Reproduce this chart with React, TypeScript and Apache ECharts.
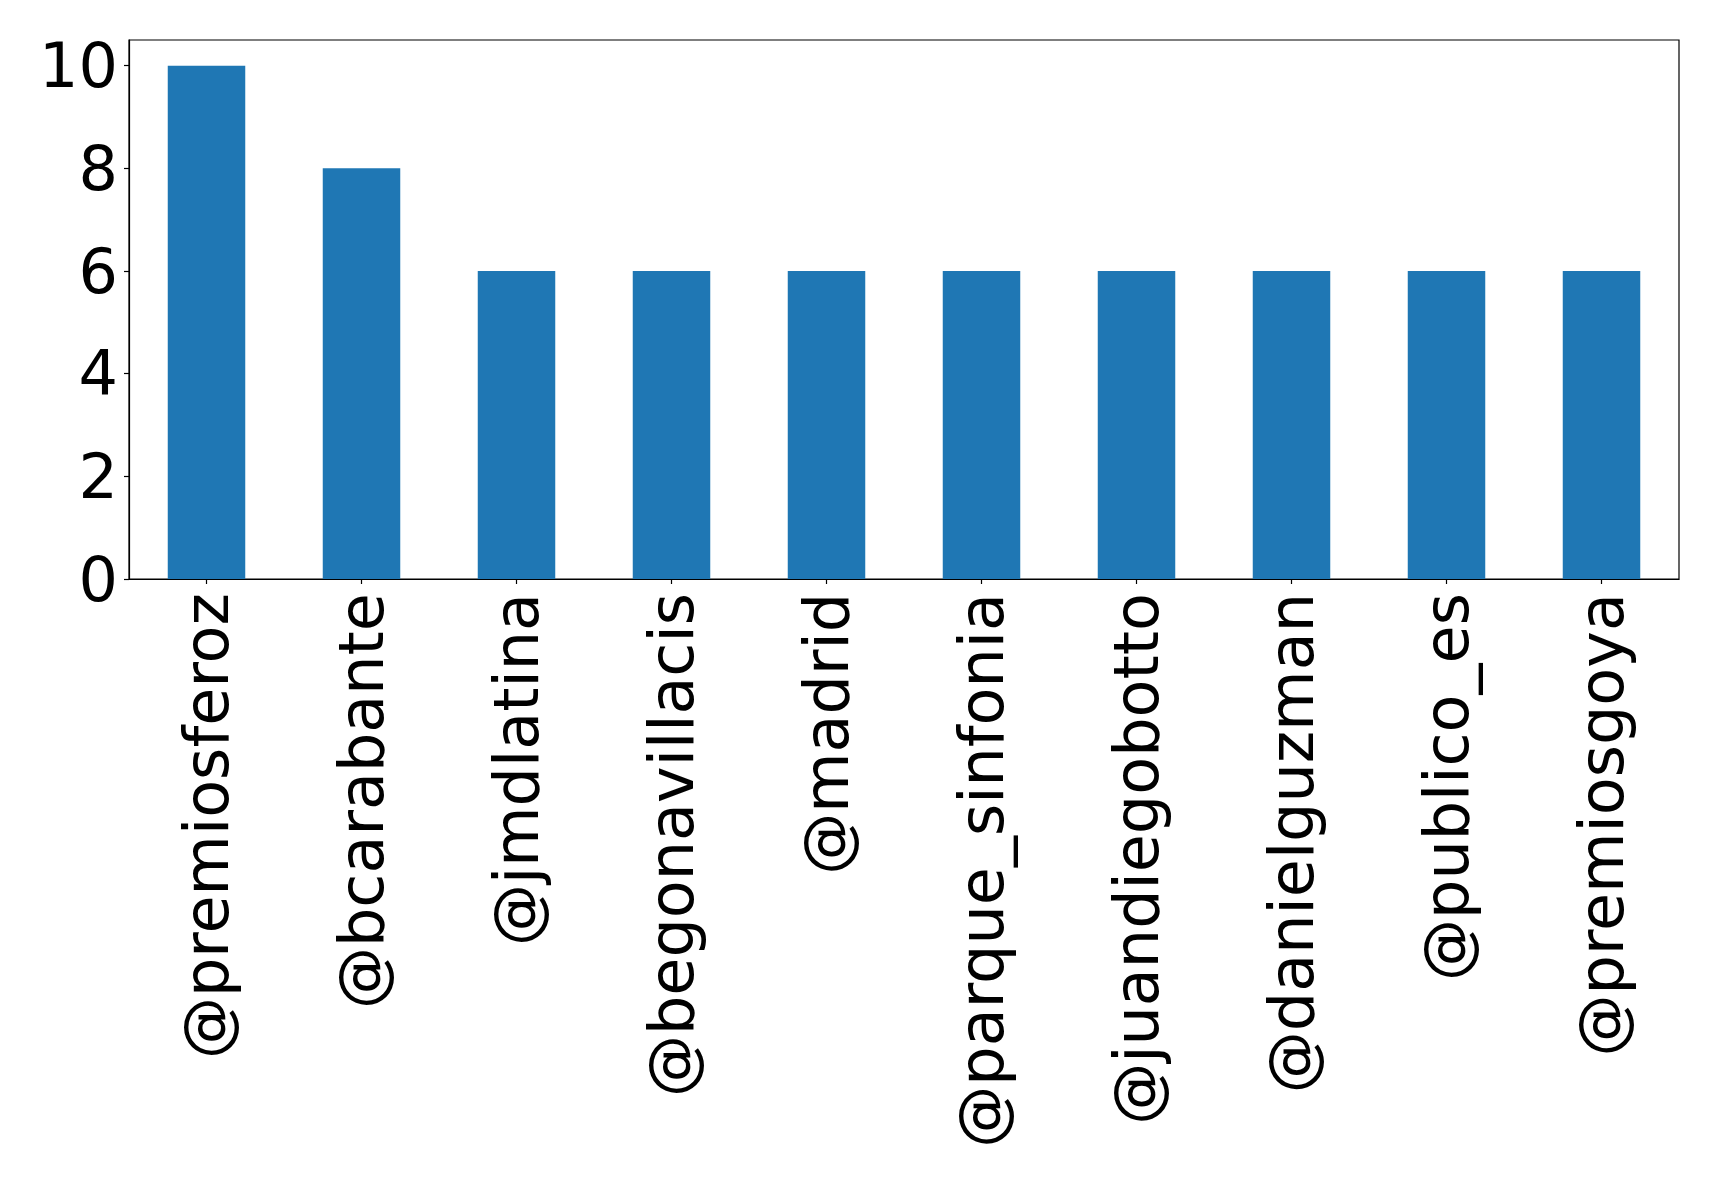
import React, { useEffect, useRef } from "react";
import * as echarts from "echarts";

const categories = [
  "@premiosferoz",
  "@bcarabante",
  "@jmdlatina",
  "@begonavillacis",
  "@madrid",
  "@parque_sinfonia",
  "@juandiegobotto",
  "@danielguzman",
  "@publico_es",
  "@premiosgoya",
];
const counts = [10, 8, 6, 6, 6, 6, 6, 6, 6, 6];
const yTicks = [0, 2, 4, 6, 8, 10];

export default function App() {
  const ref = useRef<HTMLDivElement>(null);

  useEffect(() => {
    document.body.style.margin = "0";
    const chart = echarts.init(ref.current!, null, { renderer: "svg" });
    chart.setOption({
      animation: false,
      backgroundColor: "#ffffff",
      grid: {
        left: 129,
        top: 40,
        width: 1550,
        height: 539,
        show: true,
        borderColor: "#000000",
        borderWidth: 1.2,
        backgroundColor: "transparent",
      },
      xAxis: {
        type: "category",
        data: categories,
        axisLine: { show: true, lineStyle: { color: "#000000", width: 1.2 } },
        axisTick: {
          show: true,
          alignWithLabel: true,
          length: 5,
          lineStyle: { color: "#000000", width: 1.2 },
        },
        axisLabel: {
          rotate: 90,
          interval: 0,
          margin: 14,
          color: "#000000",
          fontFamily: "DejaVu Sans",
          fontSize: 62,
        },
        splitLine: { show: false },
      },
      yAxis: {
        type: "value",
        min: 0,
        max: 10.5,
        interval: 2,
        axisLine: { show: true, lineStyle: { color: "#000000", width: 1.2 } },
        axisTick: {
          show: true,
          length: 5,
          customValues: yTicks,
          lineStyle: { color: "#000000", width: 1.2 },
        },
        axisLabel: {
          customValues: yTicks,
          margin: 11,
          color: "#000000",
          fontFamily: "DejaVu Sans",
          fontSize: 62,
        },
        splitLine: { show: false },
      },
      series: [
        {
          type: "bar",
          data: counts,
          barWidth: "50%",
          itemStyle: { color: "#1f77b4" },
        },
      ],
    });
    return () => chart.dispose();
  }, []);

  return (
    <div
      ref={ref}
      style={{ position: "absolute", left: 0, top: 0, width: 1719, height: 1187 }}
    />
  );
}
